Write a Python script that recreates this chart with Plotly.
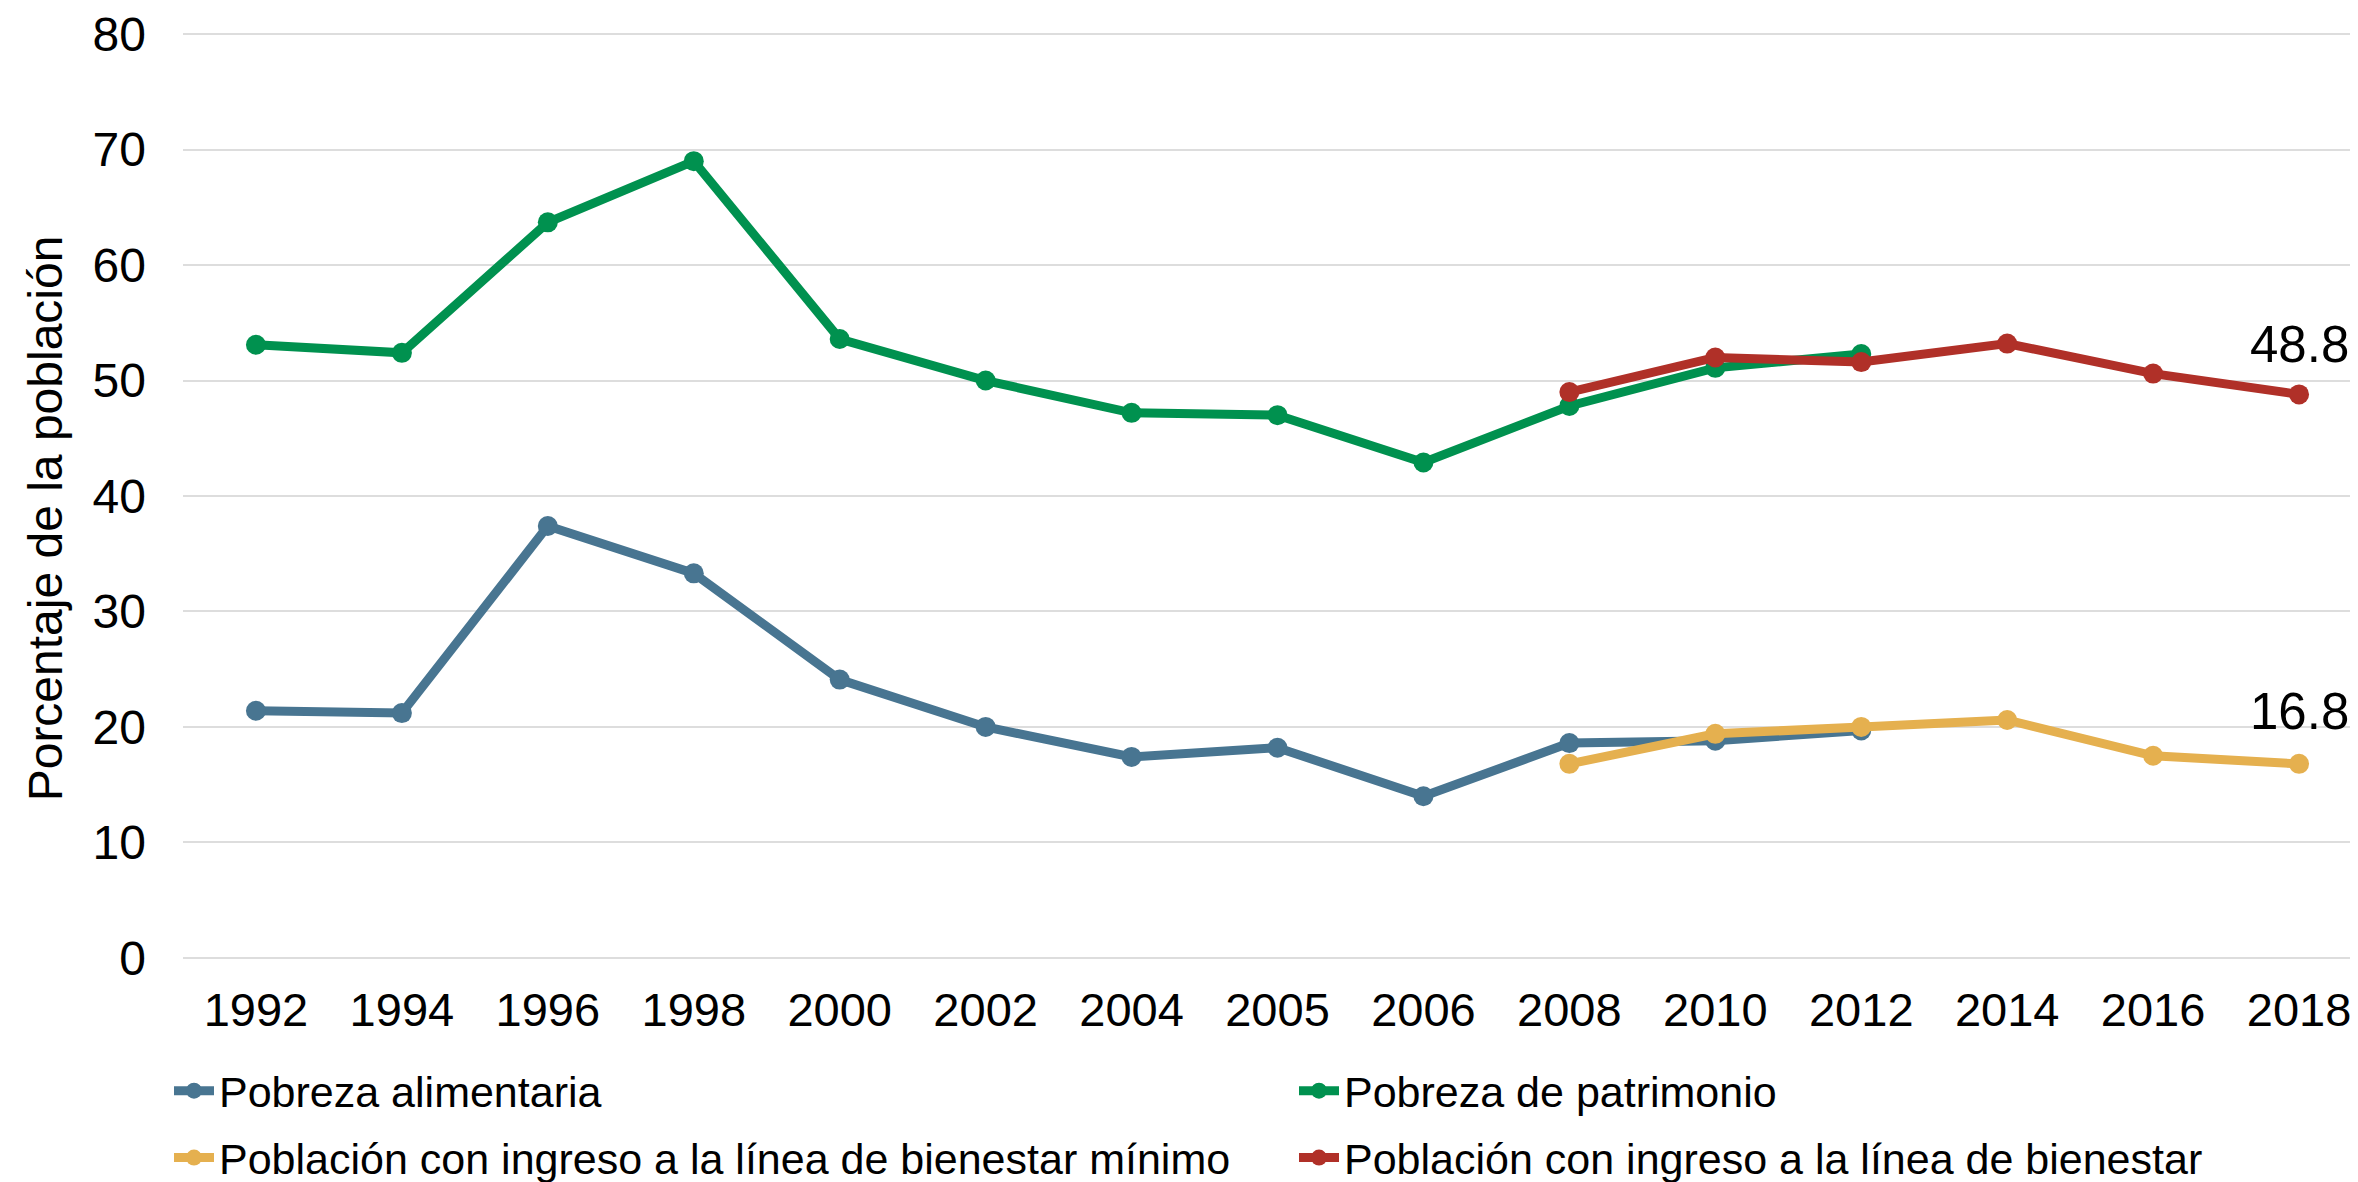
import plotly.graph_objects as go

years = ["1992", "1994", "1996", "1998", "2000", "2002", "2004", "2005", "2006",
         "2008", "2010", "2012", "2014", "2016", "2018"]

alim_years = ["1992", "1994", "1996", "1998", "2000", "2002", "2004", "2005", "2006",
              "2008", "2010", "2012"]
pobreza_alimentaria = [21.4, 21.2, 37.4, 33.3, 24.1, 20.0, 17.4, 18.2, 14.0, 18.6, 18.8, 19.7]
pobreza_patrimonio = [53.1, 52.4, 63.7, 69.0, 53.6, 50.0, 47.2, 47.0, 42.9, 47.8, 51.1, 52.3]

bien_years = ["2008", "2010", "2012", "2014", "2016", "2018"]
bienestar_minimo = [16.8, 19.4, 20.0, 20.6, 17.5, 16.8]
bienestar = [49.0, 52.0, 51.6, 53.2, 50.6, 48.8]

names = ["Pobreza alimentaria", "Pobreza de patrimonio",
         "Población con ingreso a la línea de bienestar mínimo",
         "Población con ingreso a la línea de bienestar"]
colors = ["#487591", "#00914F", "#E5B04F", "#B03028"]

FONT = "Helvetica Neue, Liberation Sans, Arial, sans-serif"

fig = go.Figure()
series = [
    (alim_years, pobreza_alimentaria, "legend"),
    (alim_years, pobreza_patrimonio, "legend2"),
    (bien_years, bienestar_minimo, "legend"),
    (bien_years, bienestar, "legend2"),
]
for i, ((xs, ys, lg), nm, c) in enumerate(zip(series, names, colors)):
    fig.add_trace(go.Scatter(
        x=xs, y=ys, name=nm, mode="lines+markers",
        line=dict(color=c, width=9),
        marker=dict(color=c, size=20),
        legend=lg, legendgroup=f"g{i}", cliponaxis=False,
    ))

# end labels
last_idx = years.index(bien_years[-1])
fig.add_annotation(x=last_idx, y=bienestar[-1], text=f"{bienestar[-1]:.1f}",
                   showarrow=False, yshift=50, xanchor="center", yanchor="middle",
                   font=dict(size=51, color="#000", family=FONT))
fig.add_annotation(x=last_idx, y=bienestar_minimo[-1], text=f"{bienestar_minimo[-1]:.1f}",
                   showarrow=False, yshift=52, xanchor="center", yanchor="middle",
                   font=dict(size=51, color="#000", family=FONT))

# y axis title
fig.add_annotation(xref="paper", yref="paper", x=-0.0634, y=0.476,
                   xanchor="center", yanchor="middle",
                   text="Porcentaje de la población", textangle=-90, showarrow=False,
                   font=dict(size=48, color="#000", family=FONT))

leg_common = dict(orientation="v", yanchor="top", xanchor="left",
                  font=dict(size=43, family=FONT, color="#000"), itemwidth=40,
                  bgcolor="rgba(0,0,0,0)", tracegroupgap=8)

# page body has an 8px margin, so the figure is drawn 8px smaller and offset
fig.update_layout(
    width=2350, height=1174,
    margin=dict(l=175, r=0, t=25, b=223, autoexpand=False),
    paper_bgcolor="white", plot_bgcolor="white",
    font=dict(family=FONT, color="#000"),
    showlegend=True,
    legend=dict(x=(169 - 183) / 2175, y=-0.105, **leg_common),
    legend2=dict(x=(1294 - 183) / 2175, y=-0.105, **leg_common),
)
fig.update_xaxes(type="category", categoryorder="array", categoryarray=years,
                 range=[-0.5, 14.404], showgrid=False, zeroline=False, showline=False,
                 ticks="", ticklabelstandoff=19, automargin=False,
                 tickfont=dict(size=47, family=FONT, color="#000"))
fig.update_yaxes(range=[-0.1, 80.1], tickvals=[0, 10, 20, 30, 40, 50, 60, 70, 80],
                 showgrid=True, gridcolor="#DDDDDD",
                 gridwidth=2, zeroline=False, showline=False, ticks="",
                 ticklabelstandoff=36, automargin=False, ticklabeloverflow="allow",
                 tickfont=dict(size=48, family=FONT, color="#000"))

fig.write_html("out.html")
